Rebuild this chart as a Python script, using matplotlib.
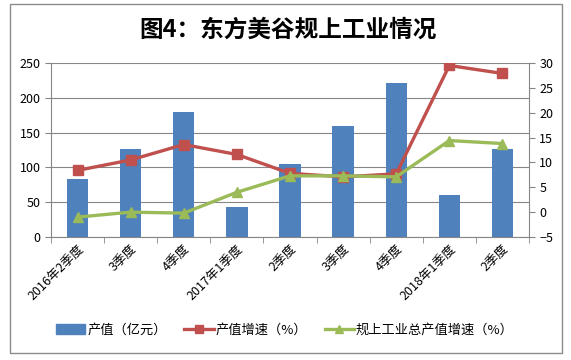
import matplotlib
matplotlib.use("Agg")
import matplotlib.pyplot as plt
from matplotlib.patches import Rectangle
from matplotlib.lines import Line2D
import numpy as np

plt.rcParams['font.family'] = ['Noto Sans CJK SC', 'DejaVu Sans']

categories = ["2016年2季度", "3季度", "4季度", "2017年1季度", "2季度", "3季度", "4季度", "2018年1季度", "2季度"]
output_value = [83, 127, 180, 43, 105, 160, 221, 60, 126]
output_growth = [8.4, 10.5, 13.6, 11.6, 7.8, 7.1, 7.7, 29.5, 27.9]
industry_growth = [-1.0, 0.0, -0.2, 4.0, 7.3, 7.3, 7.1, 14.4, 13.8]
left_ticks = [0, 50, 100, 150, 200, 250]
right_ticks = [-5, 0, 5, 10, 15, 20, 25, 30]
title = "图4：东方美谷规上工业情况"
legend_labels = ["产值（亿元）", "产值增速（%）", "规上工业总产值增速（%）"]

W, H = 571, 360
fig = plt.figure(figsize=(W/100, H/100), dpi=100)
fig.patches.append(Rectangle((10/W, 1-353/H), (562-10)/W, (353-4)/H, transform=fig.transFigure,
                             fill=False, edgecolor='#8c8c8c', linewidth=1.0))

ax = fig.add_axes([51/W, 1-237/H, (529-51)/W, (237-63)/H])
x = np.arange(len(categories))
blue, red, green = '#4F81BD', '#C0504D', '#9BBB59'
ax.bar(x, output_value, width=0.4, color=blue, zorder=2)
ax.set_ylim(0, 250)
ax.set_yticks(left_ticks)
ax.set_xlim(-0.5, len(categories)-0.5)
ax.yaxis.grid(True, color='#868686', linewidth=0.8, zorder=0)
ax.set_axisbelow(True)
for s in ['top', 'right']:
    ax.spines[s].set_visible(False)
for s in ['left', 'bottom']:
    ax.spines[s].set_color('#868686')
ax.set_xticks(x)
ax.set_xticklabels(categories, rotation=45, ha='right', rotation_mode='anchor', fontsize=9)
ax.tick_params(axis='x', length=0, pad=4)
ax.set_xticks(np.arange(-0.5, len(categories), 1.0), minor=True)
ax.tick_params(axis='x', which='minor', length=4, color='#868686')
ax.tick_params(axis='y', length=4, color='#868686', labelsize=9)

ax2 = ax.twinx()
ax2.plot(x, output_growth, color=red, linewidth=2.4, marker='s', markersize=7.5, zorder=3)
ax2.plot(x, industry_growth, color=green, linewidth=2.4, marker='^', markersize=7.5, zorder=4)
ax2.set_ylim(-5, 30)
ax2.set_yticks(right_ticks)
for s in ['top', 'left', 'bottom']:
    ax2.spines[s].set_visible(False)
ax2.spines['right'].set_color('#868686')
ax2.tick_params(axis='y', length=4, color='#868686', labelsize=9)

fig.text(288/W, 1-30/H, title, ha='center', va='center', fontsize=17, fontweight='bold')

handles = [Rectangle((0, 0), 1, 1, color=blue),
           Line2D([], [], color=red, linewidth=2.4, marker='s', markersize=6),
           Line2D([], [], color=green, linewidth=2.4, marker='^', markersize=6)]
fig.legend(handles, legend_labels, loc='center', bbox_to_anchor=(285/W, 1-330/H), ncol=3,
           frameon=False, fontsize=9.5, handlelength=2.2, columnspacing=1.35, handletextpad=0.15)

fig.savefig("out.png", dpi=100)
